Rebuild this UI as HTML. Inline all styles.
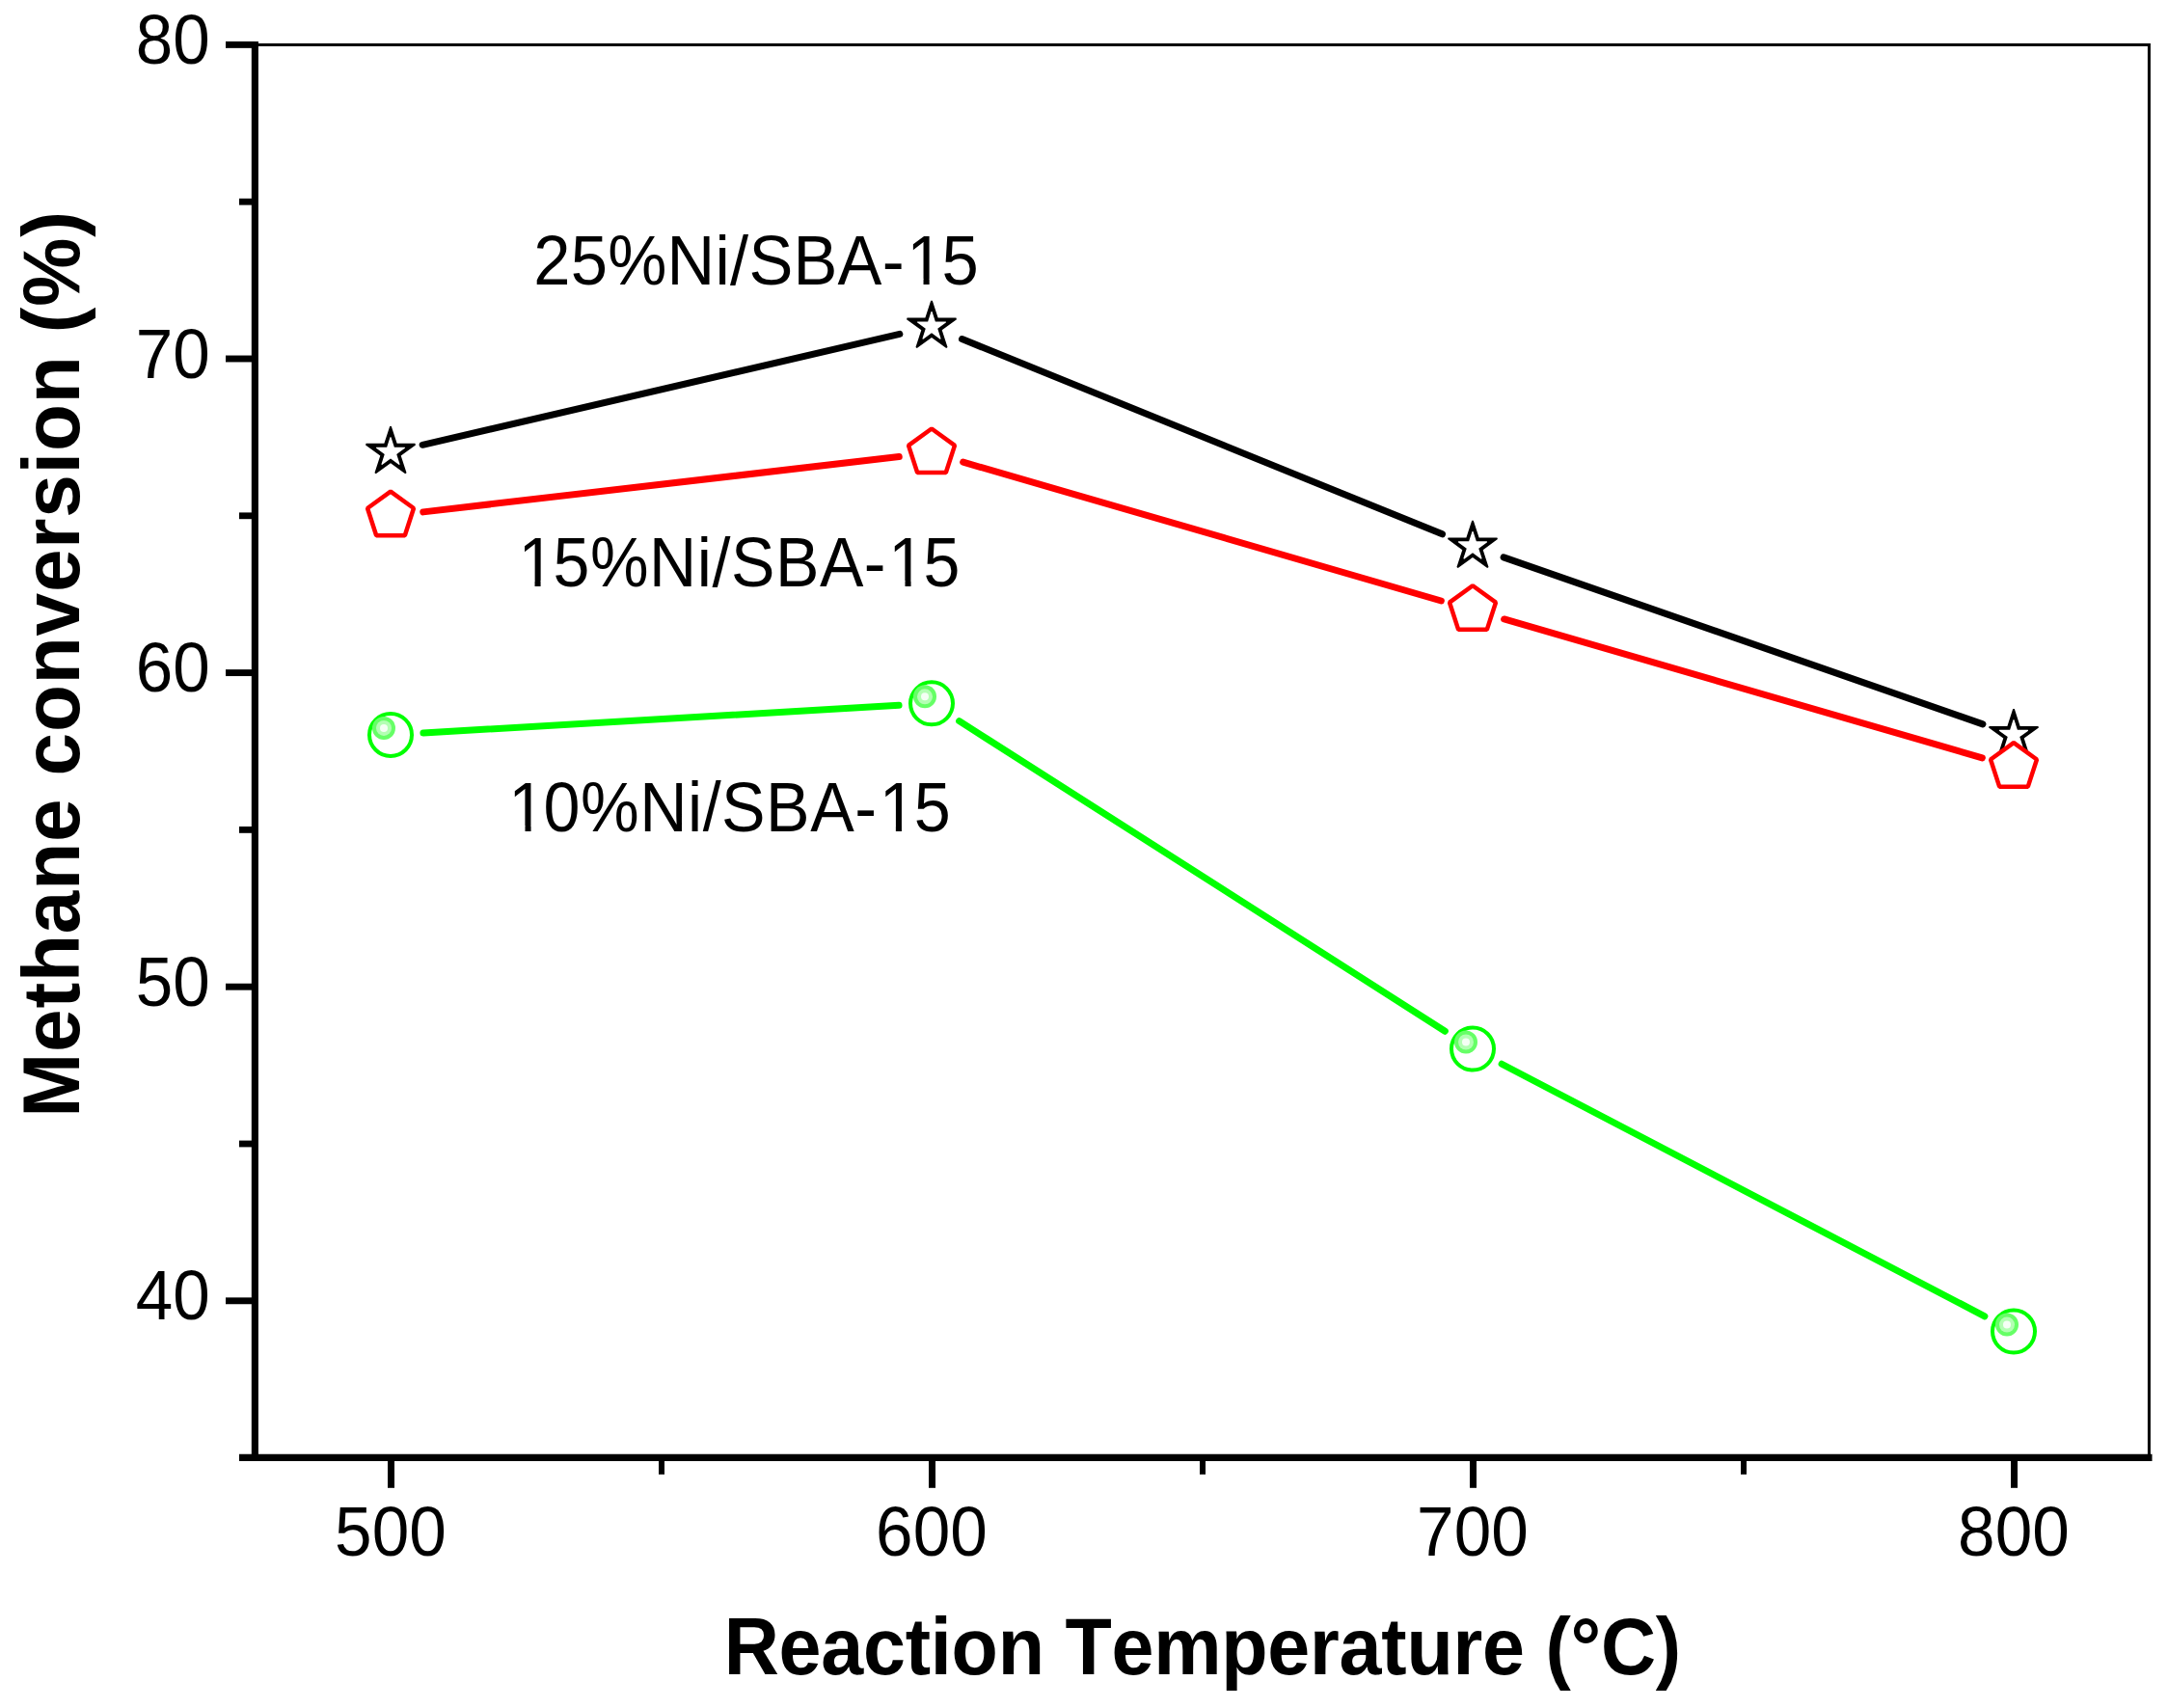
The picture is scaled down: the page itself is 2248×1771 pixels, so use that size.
<!DOCTYPE html>
<html><head><meta charset="utf-8"><title>Methane conversion</title>
<style>html,body{margin:0;padding:0;background:#fff;overflow:hidden;width:2248px;height:1771px;}svg{display:block;font-kerning:none;}</style></head>
<body><svg width="2248" height="1771" viewBox="0 0 2248 1771">
<rect width="2248" height="1771" fill="#fff"/>
<g stroke="#000" fill="none">
<path d="M264.35 46.4H2228.4" stroke-width="3"/>
<path d="M2228.4 44.9V1511.35" stroke-width="3"/>
<path d="M264.35 43V1514.9" stroke-width="7.1"/>
<path d="M248 1511.35H2231.5" stroke-width="7.1"/>
<path d="M234 46.40H264" stroke-width="6.9"/>
<path d="M234 372.00H264" stroke-width="6.9"/>
<path d="M234 697.60H264" stroke-width="6.9"/>
<path d="M234 1023.20H264" stroke-width="6.9"/>
<path d="M234 1348.80H264" stroke-width="6.9"/>
<path d="M248 209.20H264" stroke-width="6.8"/>
<path d="M248 534.80H264" stroke-width="6.8"/>
<path d="M248 860.40H264" stroke-width="6.8"/>
<path d="M248 1186.00H264" stroke-width="6.8"/>
<path d="M405.50 1512V1542.8" stroke-width="7"/>
<path d="M966.50 1512V1542.8" stroke-width="7"/>
<path d="M1527.50 1512V1542.8" stroke-width="7"/>
<path d="M2088.50 1512V1542.8" stroke-width="7"/>
<path d="M686.00 1512V1528.8" stroke-width="6"/>
<path d="M1247.00 1512V1528.8" stroke-width="6"/>
<path d="M1808.00 1512V1528.8" stroke-width="6"/>
</g>
<g font-family="Liberation Sans, Arial, sans-serif" font-size="70" fill="#000">
<text transform="translate(217.7 66.00) scale(0.988 1.033)" text-anchor="end">80</text>
<text transform="translate(217.7 391.60) scale(0.988 1.033)" text-anchor="end">70</text>
<text transform="translate(217.7 717.20) scale(0.988 1.033)" text-anchor="end">60</text>
<text transform="translate(217.7 1042.80) scale(0.988 1.033)" text-anchor="end">50</text>
<text transform="translate(217.7 1368.40) scale(0.988 1.033)" text-anchor="end">40</text>
<text transform="translate(404.90 1613.0) scale(0.99 1.033)" text-anchor="middle">500</text>
<text transform="translate(965.90 1613.0) scale(0.99 1.033)" text-anchor="middle">600</text>
<text transform="translate(1526.90 1613.0) scale(0.99 1.033)" text-anchor="middle">700</text>
<text transform="translate(2087.90 1613.0) scale(0.99 1.033)" text-anchor="middle">800</text>
</g>
<text transform="translate(750.72 1735.9) scale(0.9644 1.02)" font-family="Liberation Sans, Arial, sans-serif" font-weight="bold" font-size="82" letter-spacing="-0.25">Reaction Temperature (°C)</text>
<text transform="translate(82.1 1158.6) rotate(-90) scale(0.976 1.02)" font-family="Liberation Sans, Arial, sans-serif" font-weight="bold" font-size="82" letter-spacing="0.933">Methane conversion (%)</text>
<g font-family="Liberation Sans, Arial, sans-serif" font-size="70" fill="#000">
<text transform="translate(553.24 295) scale(0.9817 1.043)" letter-spacing="0.288" clip-path="url(#c1_0)"><tspan>25%Ni/SBA-</tspan><tspan dx="2.324">1</tspan><tspan dx="-2.324">5</tspan></text>
<text transform="translate(535.15 608) scale(0.9731 1.043)" letter-spacing="0.555" clip-path="url(#c1_1)"><tspan dx="2.324">1</tspan><tspan dx="-2.324">5%Ni/SBA-</tspan><tspan dx="2.324">1</tspan><tspan dx="-2.324">5</tspan></text>
<text transform="translate(525.08 862) scale(0.975 1.043)" letter-spacing="0.52" clip-path="url(#c1_2)"><tspan dx="2.324">1</tspan><tspan dx="-2.324">0%Ni/SBA-</tspan><tspan dx="2.324">1</tspan><tspan dx="-2.324">5</tspan></text>
</g>
<defs><clipPath id="c1_0"><path clip-rule="evenodd" d="M-50 -120H600V60H-50Z M398.37 -5.73H411.82V1.5H398.37Z M418.05 -5.73H430.95V1.5H418.05Z"/></clipPath><clipPath id="c1_1"><path clip-rule="evenodd" d="M-50 -120H600V60H-50Z M6.46 -5.73H19.91V1.5H6.46Z M26.13 -5.73H39.04V1.5H26.13Z M401.04 -5.73H414.49V1.5H401.04Z M420.72 -5.73H433.62V1.5H420.72Z"/></clipPath><clipPath id="c1_2"><path clip-rule="evenodd" d="M-50 -120H600V60H-50Z M6.46 -5.73H19.91V1.5H6.46Z M26.13 -5.73H39.04V1.5H26.13Z M400.69 -5.73H414.14V1.5H400.69Z M420.37 -5.73H433.27V1.5H420.37Z"/></clipPath></defs>
<path d="M438.12 461.29L932.88 346.43M997.50 351.54L1495.50 553.86M1559.11 577.84L2055.89 750.84" stroke="#000" stroke-width="7.0" stroke-linecap="round" fill="none"/>
<path d="M404.19 441.98 L405.81 441.98 L411.62 459.86 L430.43 459.86 L430.93 461.41 L415.72 472.46 L421.53 490.35 L420.21 491.30 L405.00 480.25 L389.79 491.30 L388.47 490.35 L394.28 472.46 L379.07 461.41 L379.57 459.86 L398.38 459.86Z M404.51 453.28 L405.49 453.28 L408.86 463.66 L419.78 463.66 L420.08 464.59 L411.25 471.01 L414.62 481.40 L413.83 481.97 L405.00 475.55 L396.17 481.97 L395.38 481.40 L398.75 471.01 L389.92 464.59 L390.22 463.66 L401.14 463.66Z" fill="#000" fill-rule="evenodd"/>
<path d="M965.19 311.74 L966.81 311.74 L972.62 329.62 L991.43 329.62 L991.93 331.17 L976.72 342.22 L982.53 360.11 L981.21 361.06 L966.00 350.01 L950.79 361.06 L949.47 360.11 L955.28 342.22 L940.07 331.17 L940.57 329.62 L959.38 329.62Z M965.51 323.04 L966.49 323.04 L969.86 333.42 L980.78 333.42 L981.08 334.35 L972.25 340.77 L975.62 351.16 L974.83 351.73 L966.00 345.31 L957.17 351.73 L956.38 351.16 L959.75 340.77 L950.92 334.35 L951.22 333.42 L962.14 333.42Z" fill="#000" fill-rule="evenodd"/>
<path d="M1526.19 539.66 L1527.81 539.66 L1533.62 557.54 L1552.43 557.54 L1552.93 559.09 L1537.72 570.14 L1543.53 588.03 L1542.21 588.98 L1527.00 577.93 L1511.79 588.98 L1510.47 588.03 L1516.28 570.14 L1501.07 559.09 L1501.57 557.54 L1520.38 557.54Z M1526.51 550.96 L1527.49 550.96 L1530.86 561.34 L1541.78 561.34 L1542.08 562.27 L1533.25 568.69 L1536.62 579.08 L1535.83 579.65 L1527.00 573.23 L1518.17 579.65 L1517.38 579.08 L1520.75 568.69 L1511.92 562.27 L1512.22 561.34 L1523.14 561.34Z" fill="#000" fill-rule="evenodd"/>
<path d="M2087.19 735.02 L2088.81 735.02 L2094.62 752.90 L2113.43 752.90 L2113.93 754.45 L2098.72 765.50 L2104.53 783.39 L2103.21 784.34 L2088.00 773.29 L2072.79 784.34 L2071.47 783.39 L2077.28 765.50 L2062.07 754.45 L2062.57 752.90 L2081.38 752.90Z M2087.51 746.32 L2088.49 746.32 L2091.86 756.70 L2102.78 756.70 L2103.08 757.63 L2094.25 764.05 L2097.62 774.44 L2096.83 775.01 L2088.00 768.59 L2079.17 775.01 L2078.38 774.44 L2081.75 764.05 L2072.92 757.63 L2073.22 756.70 L2084.14 756.70Z" fill="#000" fill-rule="evenodd"/>
<path d="M438.77 530.88L932.23 473.60M998.65 479.16L1494.35 623.00M1559.65 641.96L2055.35 785.80" stroke="#f00" stroke-width="7.0" stroke-linecap="round" fill="none"/>
<polygon points="405.00,509.60 428.97,527.01 419.81,555.19 390.19,555.19 381.03,527.01" fill="#fff" stroke="#f00" stroke-width="4.5" stroke-linejoin="bevel"/>
<polygon points="966.00,444.48 989.97,461.89 980.81,490.07 951.19,490.07 942.03,461.89" fill="#fff" stroke="#f00" stroke-width="4.5" stroke-linejoin="bevel"/>
<polygon points="1527.00,607.28 1550.97,624.69 1541.81,652.87 1512.19,652.87 1503.03,624.69" fill="#fff" stroke="#f00" stroke-width="4.5" stroke-linejoin="bevel"/>
<polygon points="2088.00,770.08 2111.97,787.49 2102.81,815.67 2073.19,815.67 2064.03,787.49" fill="#fff" stroke="#f00" stroke-width="4.5" stroke-linejoin="bevel"/>
<path d="M438.94 759.95L932.06 731.33M994.66 747.66L1498.34 1069.22M1557.14 1103.26L2057.86 1364.82" stroke="#0f0" stroke-width="7.0" stroke-linecap="round" fill="none"/>
<circle cx="405.00" cy="761.92" r="22" fill="#fff" stroke="#0f0" stroke-width="4"/><circle cx="398.00" cy="754.92" r="12" fill="#66ff66"/><circle cx="398.00" cy="754.92" r="8" fill="#b3ffb3"/><circle cx="398.00" cy="754.92" r="4" fill="#f5fff5"/>
<circle cx="966.00" cy="729.36" r="22" fill="#fff" stroke="#0f0" stroke-width="4"/><circle cx="959.00" cy="722.36" r="12" fill="#66ff66"/><circle cx="959.00" cy="722.36" r="8" fill="#b3ffb3"/><circle cx="959.00" cy="722.36" r="4" fill="#f5fff5"/>
<circle cx="1527.00" cy="1087.52" r="22" fill="#fff" stroke="#0f0" stroke-width="4"/><circle cx="1520.00" cy="1080.52" r="12" fill="#66ff66"/><circle cx="1520.00" cy="1080.52" r="8" fill="#b3ffb3"/><circle cx="1520.00" cy="1080.52" r="4" fill="#f5fff5"/>
<circle cx="2088.00" cy="1380.56" r="22" fill="#fff" stroke="#0f0" stroke-width="4"/><circle cx="2081.00" cy="1373.56" r="12" fill="#66ff66"/><circle cx="2081.00" cy="1373.56" r="8" fill="#b3ffb3"/><circle cx="2081.00" cy="1373.56" r="4" fill="#f5fff5"/>
</svg></body></html>
